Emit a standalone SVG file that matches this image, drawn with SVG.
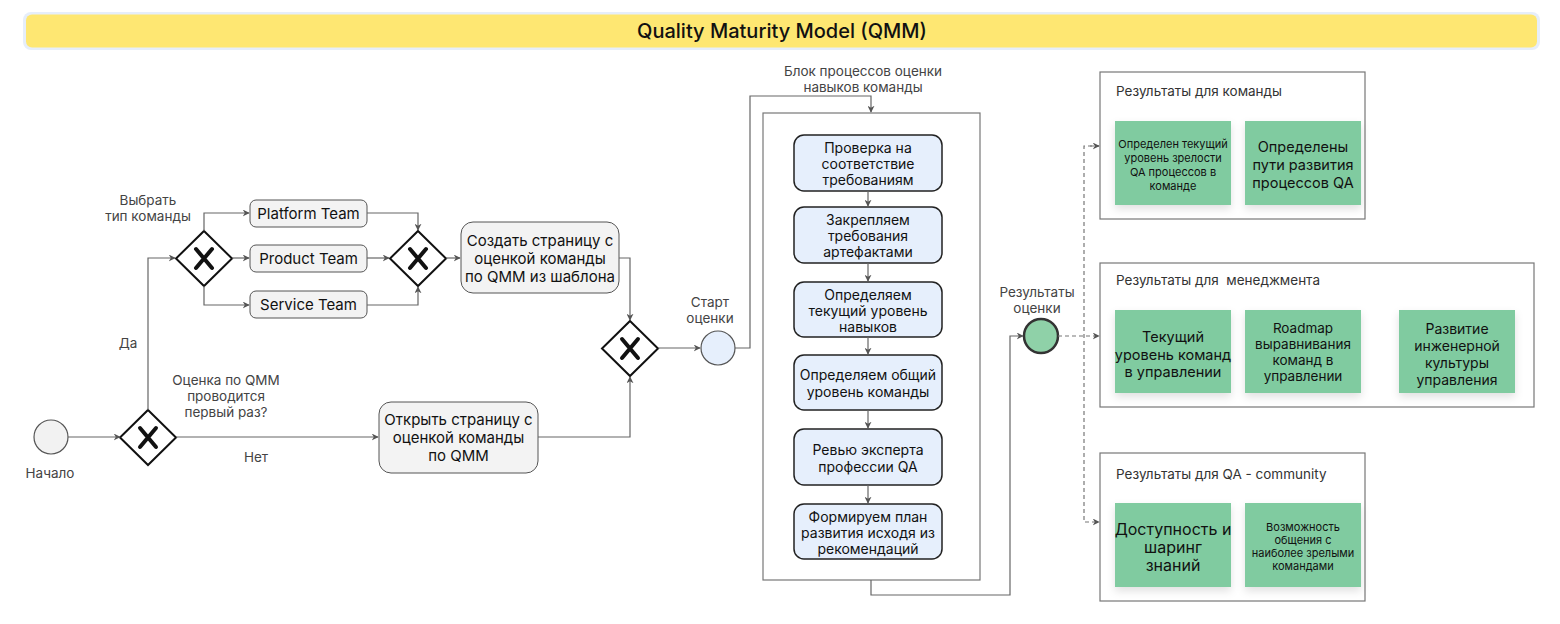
<svg xmlns="http://www.w3.org/2000/svg" width="1560" height="624" viewBox="0 0 1560 624">
<style>
text{font-family:Inter,"Noto Sans",sans-serif;text-anchor:middle;dominant-baseline:central}
.lbl{font-size:13.5px;fill:#444}
.box{fill:#f3f3f3;stroke:#555;stroke-width:1}
.bt{font-size:15px;fill:#111}
.proc{fill:#e6effc;stroke:#222;stroke-width:1.5}
.pt{font-size:14px;fill:#111}
.gw{fill:#fff;stroke:#111;stroke-width:2}
.gx{stroke:#111;stroke-width:4;stroke-linecap:round}
.c{fill:none;stroke:#666;stroke-width:1.2}
.d{fill:none;stroke:#777;stroke-width:1.2;stroke-dasharray:4 3}
.grp{fill:#fff;stroke:#777;stroke-width:1.2}
.gt{font-size:13.5px;fill:#333;text-anchor:start}
.card{fill:#80cba0}
.ct{fill:#111}
</style>
<defs>
<marker id="ar" viewBox="0 0 10 10" refX="9" refY="5" markerWidth="7" markerHeight="7" orient="auto" markerUnits="userSpaceOnUse">
<path d="M0,0 L10,5 L0,10 L3,5 Z" fill="#555"/>
</marker>
<filter id="sh" x="-20%" y="-20%" width="140%" height="150%">
<feDropShadow dx="0" dy="4" stdDeviation="4" flood-color="#000" flood-opacity="0.12"/>
</filter>
</defs>

<g id="header">
<rect x="23" y="12" width="1517" height="38" rx="8" fill="#e6eefa"/>
<rect x="26" y="14.5" width="1511" height="33" rx="6" fill="#fee772"/>
<text x="782" y="31" style="font-size:20px;font-weight:500;fill:#111">Quality Maturity Model (QMM)</text>
</g>

<g id="start">
<circle cx="51" cy="437" r="17" fill="#f2f2f2" stroke="#555" stroke-width="1.2"/>
<text class="lbl" x="50" y="473">Начало</text>
</g>

<g id="gw1">
<path class="gw" d="M148,410 L176,437.5 L148,465 L120,437.5 Z"/>
<path class="gx" d="M140,428 L156,447 M156,428 L140,447"/>
<text class="lbl" x="226" y="380">Оценка по QMM</text>
<text class="lbl" x="226" y="396">проводится</text>
<text class="lbl" x="226" y="412">первый раз?</text>
<text class="lbl" x="128" y="343">Да</text>
<text class="lbl" x="256" y="457">Нет</text>
</g>

<g id="gw2">
<path class="gw" d="M204,231 L232,258.5 L204,286 L176,258.5 Z"/>
<path class="gx" d="M196,249 L212,268 M212,249 L196,268"/>
<text class="lbl" x="148" y="200">Выбрать</text>
<text class="lbl" x="148" y="216">тип команды</text>
</g>

<g id="platform">
<rect class="box" x="250" y="200" width="117" height="27" rx="6"/>
<text class="bt" x="308.5" y="213.5">Platform Team</text>
</g>
<g id="product">
<rect class="box" x="250" y="245" width="117" height="27" rx="6"/>
<text class="bt" x="308.5" y="258.5">Product Team</text>
</g>
<g id="service">
<rect class="box" x="250" y="291" width="117" height="27" rx="6"/>
<text class="bt" x="308.5" y="304.5">Service Team</text>
</g>

<g id="gw3">
<path class="gw" d="M418,231 L446,258.5 L418,286 L390,258.5 Z"/>
<path class="gx" d="M410,249 L426,268 M426,249 L410,268"/>
</g>

<g id="create">
<rect class="box" x="461" y="222" width="158" height="71" rx="12"/>
<text class="bt" x="540" y="240">Создать страницу с</text>
<text class="bt" x="540" y="258">оценкой команды</text>
<text class="bt" x="540" y="276">по QMM из шаблона</text>
</g>

<g id="open">
<rect class="box" x="379" y="402" width="159" height="71" rx="12"/>
<text class="bt" x="458.5" y="419">Открыть страницу с</text>
<text class="bt" x="458.5" y="437">оценкой команды</text>
<text class="bt" x="458.5" y="455">по QMM</text>
</g>

<g id="gw4">
<path class="gw" d="M630,321 L658,348.5 L630,376 L602,348.5 Z"/>
<path class="gx" d="M622,339 L638,358 M638,339 L622,358"/>
</g>

<g id="startEval">
<circle cx="718" cy="348" r="17" fill="#e6effc" stroke="#555" stroke-width="1.2"/>
<text class="lbl" x="710" y="302">Старт</text>
<text class="lbl" x="710" y="318">оценки</text>
</g>

<g id="block">
<rect x="763" y="113" width="217" height="467" fill="none" stroke="#777" stroke-width="1.2"/>
<text class="lbl" x="863" y="71">Блок процессов оценки</text>
<text class="lbl" x="863" y="87">навыков команды</text>
</g>

<g id="p1">
<rect class="proc" x="794" y="135" width="148" height="56" rx="10"/>
<text class="pt" x="868" y="147">Проверка на</text>
<text class="pt" x="868" y="163">соответствие</text>
<text class="pt" x="868" y="179">требованиям</text>
</g>
<g id="p2">
<rect class="proc" x="794" y="207" width="148" height="56" rx="10"/>
<text class="pt" x="868" y="219">Закрепляем</text>
<text class="pt" x="868" y="235">требования</text>
<text class="pt" x="868" y="251">артефактами</text>
</g>
<g id="p3">
<rect class="proc" x="794" y="282" width="148" height="55" rx="10"/>
<text class="pt" x="868" y="294">Определяем</text>
<text class="pt" x="868" y="310">текущий уровень</text>
<text class="pt" x="868" y="326">навыков</text>
</g>
<g id="p4">
<rect class="proc" x="794" y="355" width="148" height="55" rx="10"/>
<text class="pt" x="868" y="374">Определяем общий</text>
<text class="pt" x="868" y="391">уровень команды</text>
</g>
<g id="p5">
<rect class="proc" x="794" y="429" width="148" height="56" rx="10"/>
<text class="pt" x="868" y="449">Ревью эксперта</text>
<text class="pt" x="868" y="466">профессии QA</text>
</g>
<g id="p6">
<rect class="proc" x="794" y="504" width="148" height="55" rx="10"/>
<text class="pt" x="868" y="516">Формируем план</text>
<text class="pt" x="868" y="532">развития исходя из</text>
<text class="pt" x="868" y="548">рекомендаций</text>
</g>

<g id="results">
<circle cx="1041" cy="336" r="17" fill="#8fd1a8" stroke="#333" stroke-width="2.5"/>
<text class="lbl" x="1037" y="292">Результаты</text>
<text class="lbl" x="1037" y="308">оценки</text>
</g>

<g id="teamResults">
<rect class="grp" x="1100" y="72" width="265" height="147"/>
<text class="gt" x="1116" y="91">Результаты для команды</text>
<rect class="card" x="1115" y="121" width="116" height="84" filter="url(#sh)"/>
<text class="ct" x="1173" y="144" style="font-size:11px">Определен текущий</text>
<text class="ct" x="1173" y="158" style="font-size:11px">уровень зрелости</text>
<text class="ct" x="1173" y="172" style="font-size:11px">QA процессов в</text>
<text class="ct" x="1173" y="186" style="font-size:11px">команде</text>
<rect class="card" x="1245" y="121" width="116" height="84" filter="url(#sh)"/>
<text class="ct" x="1303" y="146" style="font-size:14.5px">Определены</text>
<text class="ct" x="1303" y="164" style="font-size:14.5px">пути развития</text>
<text class="ct" x="1303" y="182" style="font-size:14.5px">процессов QA</text>
</g>

<g id="mgmtResults">
<rect class="grp" x="1100" y="263" width="434" height="144"/>
<text class="gt" x="1116" y="280" xml:space="preserve">Результаты для  менеджмента</text>
<rect class="card" x="1115" y="310" width="116" height="83" filter="url(#sh)"/>
<text class="ct" x="1173" y="336" style="font-size:14.5px">Текущий</text>
<text class="ct" x="1173" y="354" style="font-size:14.5px">уровень команд</text>
<text class="ct" x="1173" y="371" style="font-size:14.5px">в управлении</text>
<rect class="card" x="1245" y="310" width="116" height="83" filter="url(#sh)"/>
<text class="ct" x="1303" y="328" style="font-size:13.5px">Roadmap</text>
<text class="ct" x="1303" y="344" style="font-size:13.5px">выравнивания</text>
<text class="ct" x="1303" y="360" style="font-size:13.5px">команд в</text>
<text class="ct" x="1303" y="376" style="font-size:13.5px">управлении</text>
<rect class="card" x="1399" y="310" width="116" height="83" filter="url(#sh)"/>
<text class="ct" x="1457" y="328" style="font-size:14px">Развитие</text>
<text class="ct" x="1457" y="345" style="font-size:14px">инженерной</text>
<text class="ct" x="1457" y="362" style="font-size:14px">культуры</text>
<text class="ct" x="1457" y="379" style="font-size:14px">управления</text>
</g>

<g id="qaResults">
<rect class="grp" x="1100" y="453" width="265" height="148"/>
<text class="gt" x="1116" y="474">Результаты для QA - community</text>
<rect class="card" x="1115" y="503" width="116" height="84" filter="url(#sh)"/>
<text class="ct" x="1173" y="529" style="font-size:16px">Доступность и</text>
<text class="ct" x="1173" y="547" style="font-size:16px">шаринг</text>
<text class="ct" x="1173" y="565" style="font-size:16px">знаний</text>
<rect class="card" x="1245" y="503" width="116" height="84" filter="url(#sh)"/>
<text class="ct" x="1303" y="527" style="font-size:11px">Возможность</text>
<text class="ct" x="1303" y="540" style="font-size:11px">общения с</text>
<text class="ct" x="1303" y="553" style="font-size:11px">наиболее зрелыми</text>
<text class="ct" x="1303" y="566" style="font-size:11px">командами</text>
</g>

<g id="connectors">
<path class="c" d="M68,437 H120" marker-end="url(#ar)"/>
<path class="c" d="M148,410 V258 H175" marker-end="url(#ar)"/>
<path class="c" d="M204,231 V213 H249" marker-end="url(#ar)"/>
<path class="c" d="M232,258 H249" marker-end="url(#ar)"/>
<path class="c" d="M204,286 V305 H249" marker-end="url(#ar)"/>
<path class="c" d="M367,213 H418 V230" marker-end="url(#ar)"/>
<path class="c" d="M367,258 H389" marker-end="url(#ar)"/>
<path class="c" d="M367,305 H418 V287" marker-end="url(#ar)"/>
<path class="c" d="M446,258 H460" marker-end="url(#ar)"/>
<path class="c" d="M619,258 H630 V320" marker-end="url(#ar)"/>
<path class="c" d="M176,437 H378" marker-end="url(#ar)"/>
<path class="c" d="M538,437 H630 V377" marker-end="url(#ar)"/>
<path class="c" d="M658,348 H700" marker-end="url(#ar)"/>
<path class="c" d="M735,348 H750 V96 H871 V112" marker-end="url(#ar)"/>
<path class="c" d="M868,191 V206" marker-end="url(#ar)"/>
<path class="c" d="M868,263 V281" marker-end="url(#ar)"/>
<path class="c" d="M868,337 V354" marker-end="url(#ar)"/>
<path class="c" d="M868,410 V428" marker-end="url(#ar)"/>
<path class="c" d="M868,485 V503" marker-end="url(#ar)"/>
<path class="c" d="M871,580 V595 H1010 V336 H1023" marker-end="url(#ar)"/>
<path class="d" d="M1058,336 H1099" marker-end="url(#ar)"/>
<path class="d" d="M1099,146 H1084 V522 H1099" marker-end="url(#ar)"/>
<path class="d" d="M1090,146 H1099" marker-end="url(#ar)"/>
</g>
</svg>
